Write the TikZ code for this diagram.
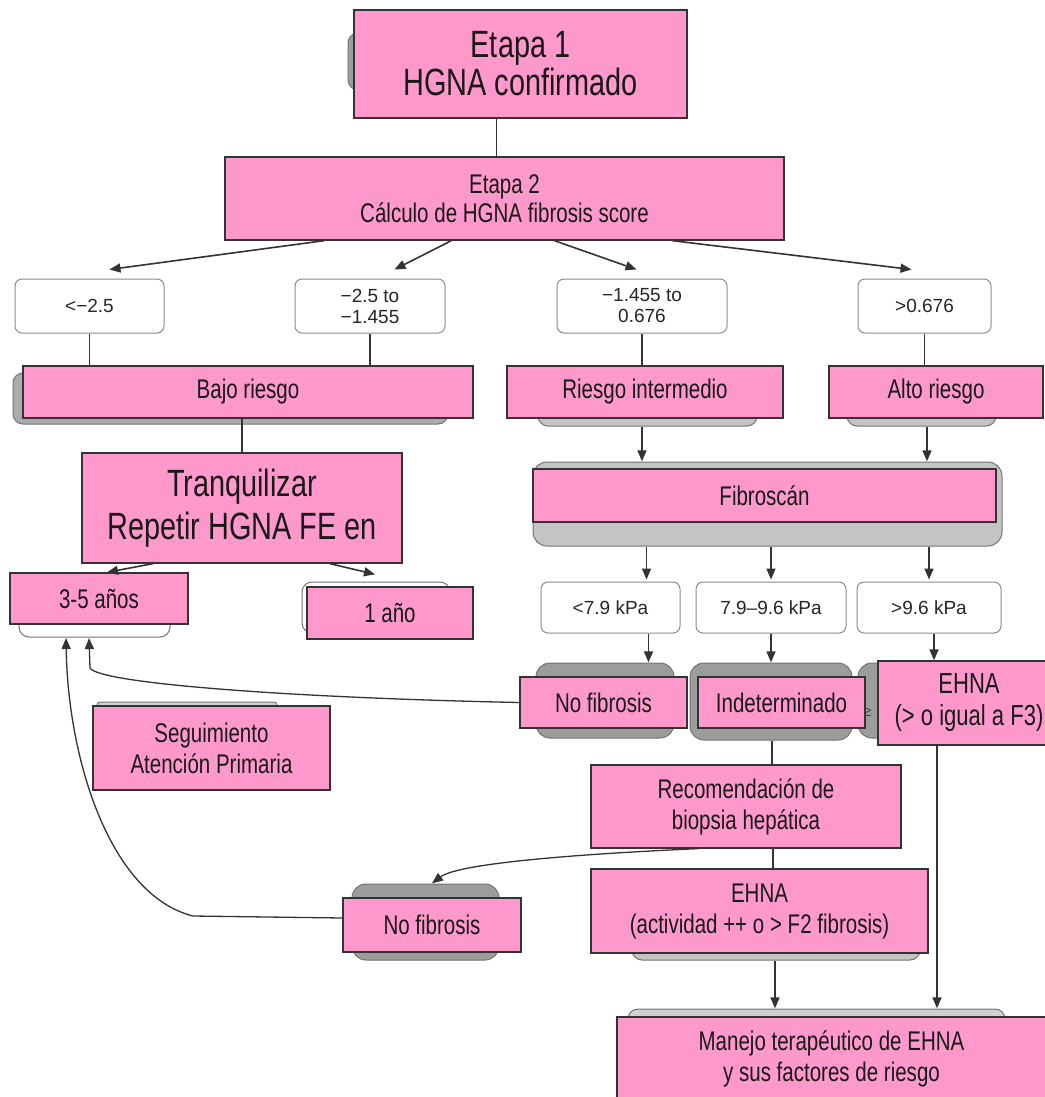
\documentclass[tikz,border=0pt]{standalone}
\usepackage{fontspec}
\setmainfont{Liberation Sans}
\newfontfamily\narrowfont[FakeStretch=0.76]{Liberation Sans}
\usepackage{xcolor}
\usepackage{tikz}
\usetikzlibrary{arrows.meta}
\definecolor{boxpink}{HTML}{FF99CC}
\definecolor{darkshade}{HTML}{9C9C9C}
\definecolor{lightshade}{HTML}{C4C4C4}

\begin{document}
\begin{tikzpicture}[
  x=1pt,y=-1pt,
  pinkbox/.style={draw=black!80,line width=1.3pt,fill=boxpink,align=center,inner sep=2pt,
    text=black!90,font=\narrowfont\fontsize{27}{31}\selectfont},
  rangebox/.style={draw=black!45,line width=1pt,fill=white,rounded corners=7pt,align=center,
    text=black!85,font=\fontsize{19}{21}\selectfont},
  shadebox/.style={fill=darkshade,draw=black!55,line width=1pt,rounded corners=10pt},
  link/.style={line width=1.6pt,draw=black!80},
  arr/.style={link,-{Triangle[length=11pt,width=9pt]}},
]
\fill[white] (0,0) rectangle (1044,1097);
\useasboundingbox (0,0) rectangle (1044,1097);

% shadows behind the boxes
\draw[shadebox] (348,33) rectangle (600,90);
\draw[shadebox,fill=darkshade!85] (13,373) rectangle (448,424);
\draw[shadebox,fill=lightshade] (538,400) rectangle (757,426);
\draw[shadebox,fill=lightshade] (847,400) rectangle (996,426);
\draw[shadebox,fill=lightshade,rounded corners=14pt] (533,462) rectangle (1002,546);
\draw[shadebox,rounded corners=14pt] (536,663) rectangle (674,738);
\draw[shadebox,rounded corners=14pt] (690,663) rectangle (852,740);
\draw[shadebox,rounded corners=14pt] (858,663) rectangle (930,738);
\draw[shadebox,fill=lightshade] (632,935) rectangle (920,960);
\draw[shadebox,fill=lightshade!80] (628,1009) rectangle (1005,1032);
\draw[shadebox,rounded corners=14pt] (352,884) rectangle (499,960);
\draw[shadebox,fill=white] (19,590) rectangle (170,637);
\draw[shadebox,fill=white] (302,582) rectangle (450,633);
\draw[shadebox,fill=lightshade!80,rounded corners=3pt] (97,702) rectangle (277,712);
\node[font=\fontsize{16}{16}\selectfont,text=black!70] (geq) at (867,712) {≥};

% stages
\node[pinkbox,minimum width=333pt,minimum height=108pt,font=\narrowfont\fontsize{38}{38}\selectfont]
  (e1) at (520.5,64) {Etapa 1\\HGNA confirmado};
\node[pinkbox,minimum width=559pt,minimum height=83pt,font=\narrowfont\fontsize{27}{29}\selectfont]
  (e2) at (504.5,198.5) {Etapa 2\\Cálculo de HGNA fibrosis score};

% score ranges
\node[rangebox,minimum width=149pt,minimum height=54pt] (r1) at (89.5,306) {<−2.5};
\node[rangebox,minimum width=150pt,minimum height=54pt] (r2) at (370,306) {−2.5 to\\−1.455};
\node[rangebox,minimum width=170pt,minimum height=54pt] (r3) at (642,306) {−1.455 to\\0.676};
\node[rangebox,minimum width=133pt,minimum height=54pt] (r4) at (924.5,306) {>0.676};

% risk groups
\node[pinkbox,minimum width=450pt,minimum height=52pt] (bajo) at (248,392) {Bajo riesgo};
\node[pinkbox,minimum width=276pt,minimum height=52pt] (inter) at (645,392) {Riesgo intermedio};
\node[pinkbox,minimum width=214pt,minimum height=52pt] (alto) at (936,392) {Alto riesgo};

\node[pinkbox,minimum width=320pt,minimum height=110pt,font=\narrowfont\fontsize{38}{43}\selectfont]
  (tranq) at (242,508) {Tranquilizar\\Repetir HGNA FE en};
\node[pinkbox,minimum width=178pt,minimum height=51pt] (anos) at (99,598.5) {3-5 años};
\node[pinkbox,minimum width=166pt,minimum height=52pt] (uno) at (390,613) {1 año};
\node[pinkbox,minimum width=237pt,minimum height=84pt] (segui) at (211.5,748) {Seguimiento\\Atención Primaria};

\node[pinkbox,minimum width=463pt,minimum height=53pt] (fibro) at (764.5,495.5) {Fibroscán};

% stiffness ranges
\node[rangebox,minimum width=139pt,minimum height=51pt] (k1) at (610.5,607.5) {<7.9 kPa};
\node[rangebox,minimum width=150pt,minimum height=51pt] (k2) at (771,607.5) {7.9–9.6 kPa};
\node[rangebox,minimum width=144pt,minimum height=51pt] (k3) at (929,607.5) {>9.6 kPa};

\node[pinkbox,minimum width=167pt,minimum height=51pt] (nf1) at (603.5,702.5) {No fibrosis};
\node[pinkbox,minimum width=167pt,minimum height=51pt] (indet) at (781.5,702.5) {Indeterminado};
\node[pinkbox,minimum width=182pt,minimum height=84pt,font=\narrowfont\fontsize{29}{32}\selectfont]
  (ehna3) at (969,703) {EHNA\\(> o igual a F3)};

\node[pinkbox,minimum width=310pt,minimum height=83pt] (recom) at (746,806.5) {Recomendación de\\biopsia hepática};
\node[pinkbox,minimum width=337pt,minimum height=84pt] (ehna2) at (759.5,911) {EHNA\\(actividad ++ o > F2 fibrosis)};
\node[pinkbox,minimum width=178pt,minimum height=54pt] (nf2) at (432,925) {No fibrosis};
\node[pinkbox,minimum width=429pt,minimum height=83pt] (manejo) at (831.5,1058.5) {Manejo terapéutico de EHNA\\y sus factores de riesgo};

\coordinate (fibtop) at ([yshift=7pt]fibro.north);
\coordinate (fibbot) at ([yshift=-24pt]fibro.south);
\coordinate (restop) at ([yshift=14pt]nf1.north);
\coordinate (mantop) at ([yshift=8pt]manejo.north);
\coordinate (t1) at (66,638);
\coordinate (t2) at (89,638);

% connectors
\draw[link] ([xshift=143pt]e1.south west) -- ([xshift=143pt]e1.south west |- e2.north);
\draw[arr] ([xshift=100pt]e2.south west) -- ([xshift=95pt,yshift=9pt]r1.north west);
\draw[arr] ([xshift=227pt]e2.south west) -- ([xshift=100pt,yshift=9pt]r2.north west);
\draw[arr] ([xshift=330pt]e2.south west) -- ([xshift=80pt,yshift=9pt]r3.north west);
\draw[arr] ([xshift=448pt]e2.south west) -- ([xshift=54pt,yshift=9pt]r4.north west);
\draw[link] (r1.south) -- (r1.south |- bajo.north);
\draw[link] (r2.south) -- (r2.south |- bajo.north);
\draw[link] (r3.south) -- (r3.south |- inter.north);
\draw[link] (r4.south) -- (r4.south |- alto.north);
\draw[link] (tranq.north |- bajo.south) -- (tranq.north);
\draw[arr] ([xshift=-3pt,yshift=-8pt]inter.south) -- ([xshift=-3pt]inter.south |- fibtop);
\draw[arr] ([xshift=-9pt,yshift=-8pt]alto.south) -- ([xshift=-9pt]alto.south |- fibtop);
\draw[arr] ([xshift=36pt]k1.north |- fibbot) -- ([xshift=36pt,yshift=2pt]k1.north);
\draw[arr] (k2.north |- fibbot) -- ([yshift=2pt]k2.north);
\draw[arr] (k3.north |- fibbot) -- ([yshift=2pt]k3.north);
\draw[arr] ([xshift=38pt]k1.south) -- ([xshift=38pt]k1.south |- restop);
\draw[arr] (k2.south) -- (k2.south |- restop);
\draw[arr] ([xshift=5pt]k3.south) -- ([xshift=5pt]k3.south |- ehna3.north);
\draw[link] ([xshift=-9.5pt,yshift=-12pt]indet.south) -- ([xshift=-9.5pt]indet.south |- recom.north);
\draw[link] ([xshift=27pt]recom.south) -- ([xshift=27pt]recom.south |- ehna2.north);
\draw[arr] ([xshift=15.5pt,yshift=-7pt]ehna2.south) -- ([xshift=15.5pt]ehna2.south |- mantop);
\draw[arr] ([xshift=-32pt]ehna3.south) -- ([xshift=-32pt]ehna3.south |- mantop);
\draw[arr] ([xshift=-89pt]tranq.south) -- ([xshift=8pt]anos.north);
\draw[arr] ([xshift=88pt]tranq.south) -- ([xshift=-15pt,yshift=12pt]uno.north);
\draw[arr,line width=1.3pt] (nf1.west) .. controls (300,698) and (100,684) .. (90,668) -- (t2);
\draw[arr,line width=1.3pt] ([yshift=7pt]nf2.west) -- (193,916) .. controls (110,895) and (68,760) .. (t1);
\draw[arr,line width=1.3pt] ([xshift=108pt]recom.south west) .. controls (600,853) and (460,862) .. ([yshift=14pt]nf2.north);
\end{tikzpicture}
\end{document}
